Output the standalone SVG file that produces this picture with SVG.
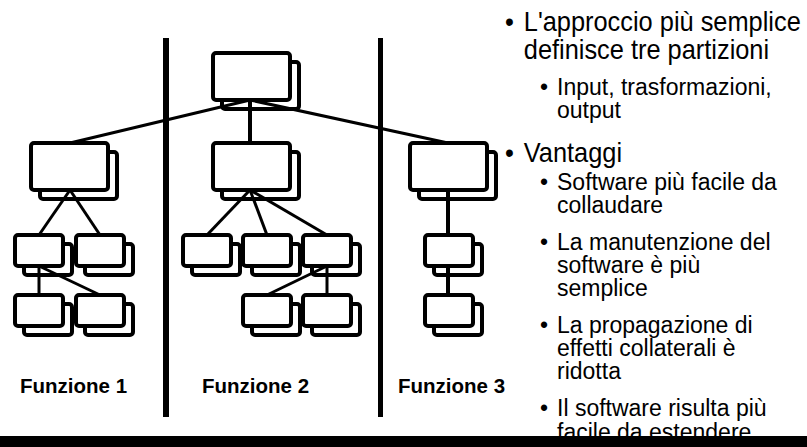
<svg xmlns="http://www.w3.org/2000/svg" width="807" height="447" viewBox="0 0 807 447">
  <defs>
    <style>
      .box { fill: #fff; stroke: #000; stroke-width: 4; }
      .link { stroke: #000; stroke-width: 3; fill: none; }
      .label { font-family: "Liberation Sans", Arial, sans-serif; font-weight: bold; font-size: 20.5px; fill: #000; }
      .t1 { font-family: "Liberation Sans", Arial, sans-serif; font-size: 27px; fill: #000; }
      .t2 { font-family: "Liberation Sans", Arial, sans-serif; font-size: 23px; fill: #000; }
    </style>
    <!-- large module: shadow sheet behind, front sheet on top -->
    <g id="bigBox">
      <rect class="box" x="9" y="9" width="77" height="47" rx="3"/>
      <rect class="box" x="0" y="0" width="77" height="47" rx="3"/>
    </g>
    <g id="smallBox">
      <rect class="box" x="9" y="9" width="48" height="31" rx="3"/>
      <rect class="box" x="0" y="0" width="48" height="31" rx="3"/>
    </g>
  </defs>

  <rect width="807" height="447" fill="#fff"/>

  <!-- partition dividers -->
  <g id="dividers" fill="#000">
    <rect x="163" y="38" width="6" height="379"/>
    <rect x="378" y="38" width="5" height="379"/>
  </g>

  <!-- modules -->
  <g id="root"><use href="#bigBox" x="213" y="53"/></g>
  <g id="f1-main"><use href="#bigBox" x="31" y="143"/></g>
  <g id="f2-main"><use href="#bigBox" x="213" y="143"/></g>
  <g id="f3-main"><use href="#bigBox" x="410" y="143"/></g>

  <g id="f1-a"><use href="#smallBox" x="15" y="235"/></g>
  <g id="f1-b"><use href="#smallBox" x="76" y="235"/></g>
  <g id="f1-c"><use href="#smallBox" x="15" y="295"/></g>
  <g id="f1-d"><use href="#smallBox" x="76" y="295"/></g>

  <g id="f2-a"><use href="#smallBox" x="183" y="235"/></g>
  <g id="f2-b"><use href="#smallBox" x="243" y="235"/></g>
  <g id="f2-c"><use href="#smallBox" x="303" y="235"/></g>
  <g id="f2-d"><use href="#smallBox" x="243" y="295"/></g>
  <g id="f2-e"><use href="#smallBox" x="303" y="295"/></g>

  <g id="f3-a"><use href="#smallBox" x="425" y="235"/></g>
  <g id="f3-b"><use href="#smallBox" x="425" y="295"/></g>

  <!-- connectors -->
  <g id="connectors" class="link">
    <line x1="250" y1="100" x2="70" y2="143"/>
    <line x1="250" y1="100" x2="250" y2="143" stroke-width="4"/>
    <line x1="250" y1="100" x2="448" y2="143"/>

    <line x1="70" y1="190" x2="39" y2="235"/>
    <line x1="70" y1="190" x2="100" y2="235"/>
    <line x1="39" y1="266" x2="39" y2="295"/>
    <line x1="39" y1="266" x2="100" y2="295"/>

    <line x1="250" y1="190" x2="207" y2="235"/>
    <line x1="250" y1="190" x2="267" y2="235"/>
    <line x1="250" y1="190" x2="327" y2="235"/>
    <line x1="327" y1="266" x2="327" y2="295"/>
    <line x1="327" y1="266" x2="267" y2="295"/>

    <line x1="448" y1="190" x2="448" y2="235" stroke-width="4"/>
    <line x1="448" y1="266" x2="448" y2="295" stroke-width="4"/>
  </g>

  <!-- partition labels -->
  <g id="labels">
    <text class="label" x="20" y="393">Funzione 1</text>
    <text class="label" x="202" y="393">Funzione 2</text>
    <text class="label" x="398" y="393">Funzione 3</text>
  </g>

  <!-- bullet notes: first level slightly condensed to fit the column -->
  <g id="notes">
    <g transform="translate(505 0) scale(0.94 1)">
      <text class="t1" x="0" y="31">•</text>
      <text class="t1" x="20" y="31">L'approccio più semplice<tspan x="20" dy="28">definisce tre partizioni</tspan></text>
      <text class="t1" x="0" y="162">•</text>
      <text class="t1" x="20" y="162">Vantaggi</text>
    </g>
    <text class="t2" x="540" y="95">•</text>
    <text class="t2" x="557" y="95">Input, trasformazioni,<tspan x="557" dy="23">output</tspan></text>
    <text class="t2" x="540" y="190">•</text>
    <text class="t2" x="557" y="190">Software più facile da<tspan x="557" dy="23">collaudare</tspan></text>
    <text class="t2" x="540" y="250">•</text>
    <text class="t2" x="557" y="250">La manutenzione del<tspan x="557" dy="23">software è più</tspan><tspan x="557" dy="23">semplice</tspan></text>
    <text class="t2" x="540" y="333">•</text>
    <text class="t2" x="557" y="333">La propagazione di<tspan x="557" dy="23">effetti collaterali è</tspan><tspan x="557" dy="23">ridotta</tspan></text>
    <text class="t2" x="540" y="416">•</text>
    <text class="t2" x="557" y="416">Il software risulta più<tspan x="557" dy="24">facile da estendere</tspan></text>
  </g>

  <!-- base bar, drawn over the cut-off last line -->
  <rect id="base-bar" x="0" y="436" width="807" height="11" fill="#000"/>
</svg>
